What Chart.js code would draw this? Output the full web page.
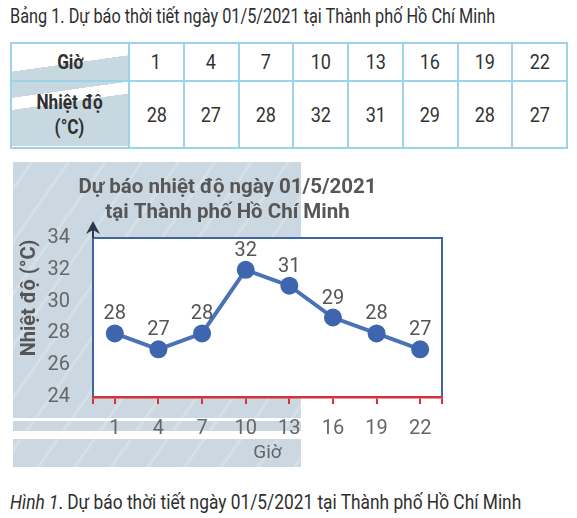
<!DOCTYPE html>
<html>
<head>
<meta charset="utf-8">
<script src="https://cdn.jsdelivr.net/npm/chart.js@4.4.0/dist/chart.umd.min.js"></script>
<style>
  html, body { margin: 0; padding: 0; background: #fff; width: 577px; height: 518px; overflow: hidden; }
  body { position: relative; font-family: Roboto, "Liberation Sans", sans-serif; color: #333; }
  .cap { position: absolute; left: 10px; font-size: 20px; line-height: 24px; white-space: nowrap; transform-origin: 0 50%; color: #2e2e2e; }
  #caption-top { top: 4px; }
  #caption-bottom { top: 490px; }
  #caption-bottom i { font-style: italic; }
  #colbg { position: absolute; left: 11px; top: 43px; width: 119px; height: 103px;
    background: linear-gradient(172deg, #fff 0 24%, #c8d8e1 24% 46%, #fff 46% 56%, #c8d8e1 56% 100%); }
  table { position: absolute; left: 10px; top: 42px; width: 558px; height: 105px; border-collapse: collapse; table-layout: fixed; }
  td { border: 2px solid #9cd3e8; text-align: center; font-size: 21px; color: #333; padding: 0; }
  td.h { font-weight: bold; width: 116px; line-height: 25px; color: #303030; font-size: 20px; }
  td span { display: inline-block; transform: scaleX(0.86); }
  tr.r1 { height: 38px; }
  tr.r2 { height: 67px; }
  #bg { position: absolute; left: 13px; top: 162px; width: 288px; height: 305px;
    background:
      linear-gradient(180deg, transparent 0 256px, #fff 256px 259px, transparent 259px 269px, #fff 269px 277px, transparent 277px),
      repeating-linear-gradient(125deg, rgba(255,255,255,0) 0 14px, rgba(255,255,255,0.18) 14px 17px, rgba(255,255,255,0) 17px 30px),
      #cbd8e1;
  }
  #wrap { position: absolute; left: 13px; top: 160px; width: 446px; height: 310px; }
</style>
</head>
<body>
<div id="caption-top" class="cap">Bảng 1. Dự báo thời tiết ngày 01/5/2021 tại Thành phố Hồ Chí Minh</div>
<div id="colbg"></div>
<table id="tbl"></table>
<div id="bg"></div>
<div id="wrap"><canvas id="c" width="446" height="310"></canvas></div>
<div id="caption-bottom" class="cap"><i>Hình 1</i>. Dự báo thời tiết ngày 01/5/2021 tại Thành phố Hồ Chí Minh</div>
<script>
const hours = [1, 4, 7, 10, 13, 16, 19, 22];
const temps = [28, 27, 28, 32, 31, 29, 28, 27];
const yTicks = [24, 26, 28, 30, 32, 34];
const chartTitle = ["Dự báo nhiệt độ ngày 01/5/2021", "tại Thành phố Hồ Chí Minh"];
const xTitle = "Giờ";
const yTitle = "Nhiệt độ (°C)";
const rowHeader1 = "Giờ";
const rowHeader2 = "Nhiệt độ<br>(°C)";

// fit captions to the reference widths
function fitWidth(id, w) {
  const el = document.getElementById(id);
  el.style.transform = 'scaleX(' + (w / el.scrollWidth) + ')';
}
fitWidth('caption-top', 485);
fitWidth('caption-bottom', 511);

// table
const tbl = document.getElementById('tbl');
tbl.innerHTML =
  '<tr class="r1"><td class="h"><span>' + rowHeader1 + '</span></td>' + hours.map(h => '<td><span>' + h + '</span></td>').join('') + '</tr>' +
  '<tr class="r2"><td class="h"><span>' + rowHeader2 + '</span></td>' + temps.map(t => '<td><span>' + t + '</span></td>').join('') + '</tr>';

const FONT = 'Roboto, "Liberation Sans", sans-serif';

const framePlugin = {
  id: 'frame',
  beforeDraw(chart) {
    const { ctx, chartArea: a } = chart;
    ctx.save();
    ctx.fillStyle = '#ffffff';
    ctx.fillRect(a.left, a.top, a.right - a.left, a.bottom - a.top);
    ctx.strokeStyle = '#3d67a3';
    ctx.lineWidth = 2;
    ctx.beginPath();
    ctx.moveTo(a.left, a.bottom);
    ctx.lineTo(a.left, a.top);
    ctx.lineTo(a.right, a.top);
    ctx.lineTo(a.right, a.bottom);
    ctx.stroke();
    // arrow on y axis
    ctx.strokeStyle = '#2c3a4c';
    ctx.fillStyle = '#2c3a4c';
    ctx.lineWidth = 2;
    ctx.beginPath();
    ctx.moveTo(a.left, a.top);
    ctx.lineTo(a.left, a.top - 10);
    ctx.stroke();
    ctx.beginPath();
    ctx.moveTo(a.left, a.top - 17);
    ctx.lineTo(a.left - 7, a.top - 4);
    ctx.lineTo(a.left, a.top - 8);
    ctx.lineTo(a.left + 7, a.top - 4);
    ctx.closePath();
    ctx.fill();
    ctx.restore();
  },
  afterDraw(chart) {
    const { ctx, chartArea: a } = chart;
    ctx.save();
    ctx.translate(a.left - 63, a.top + 60);
    ctx.rotate(-Math.PI / 2);
    ctx.font = 'bold 20px ' + FONT;
    ctx.fillStyle = '#555';
    ctx.textAlign = 'center';
    ctx.textBaseline = 'middle';
    ctx.fillText(yTitle, 0, 0);
    ctx.restore();
  }
};

const valueLabels = {
  id: 'valueLabels',
  afterDatasetsDraw(chart) {
    const { ctx } = chart;
    const meta = chart.getDatasetMeta(0);
    ctx.save();
    ctx.font = '20px ' + FONT;
    ctx.fillStyle = '#555';
    ctx.textAlign = 'center';
    ctx.textBaseline = 'middle';
    meta.data.forEach((pt, i) => {
      ctx.fillText(String(temps[i]), pt.x, pt.y - 19);
    });
    ctx.restore();
  }
};

new Chart(document.getElementById('c'), {
  type: 'line',
  data: {
    datasets: [{
      data: hours.map((h, i) => ({ x: h, y: temps[i] })),
      borderColor: '#4a72b8',
      backgroundColor: '#3e66ae',
      borderWidth: 4,
      pointRadius: 9,
      pointHoverRadius: 9,
      pointBackgroundColor: '#3e66ae',
      pointBorderWidth: 0,
      tension: 0
    }]
  },
  options: {
    responsive: false,
    animation: false,
    devicePixelRatio: 1,
    events: [],
    layout: { padding: { left: 0, right: 17, top: 0, bottom: 0 } },
    plugins: {
      legend: { display: false },
      tooltip: { enabled: false },
      title: {
        display: true,
        text: chartTitle,
        color: '#565656',
        font: { family: FONT, size: 20.5, weight: 'bold', lineHeight: 1.22 },
        padding: { top: 15.5, bottom: 12.5 }
      }
    },
    scales: {
      x: {
        type: 'linear',
        min: -0.5,
        max: 23.5,
        afterBuildTicks(scale) {
          scale.ticks = [scale.min, ...hours, scale.max].map(v => ({ value: v }));
        },
        afterFit(scale) { scale.height = 73; },
        ticks: {
          autoSkip: false,
          maxRotation: 0,
          color: '#666',
          padding: 13,
          font: { family: FONT, size: 20 },
          callback: v => hours.includes(v) ? String(v) : ''
        },
        grid: { drawOnChartArea: false, drawTicks: true, tickLength: 7, color: '#d5303c', lineWidth: 2 },
        border: { display: true, color: '#d5303c', width: 2.5 },
        title: { display: true, text: xTitle, color: '#666', font: { family: FONT, size: 19 }, padding: { top: 0, bottom: 5 } }
      },
      y: {
        min: 24,
        max: 34,
        afterBuildTicks(scale) {
          scale.ticks = yTicks.map(v => ({ value: v }));
        },
        afterFit(scale) { scale.width = 80; },
        ticks: { color: '#666', padding: 23, font: { family: FONT, size: 20 } },
        grid: { display: false, drawTicks: false },
        border: { display: false }
      }
    }
  },
  plugins: [framePlugin, valueLabels]
});
</script>
</body>
</html>
